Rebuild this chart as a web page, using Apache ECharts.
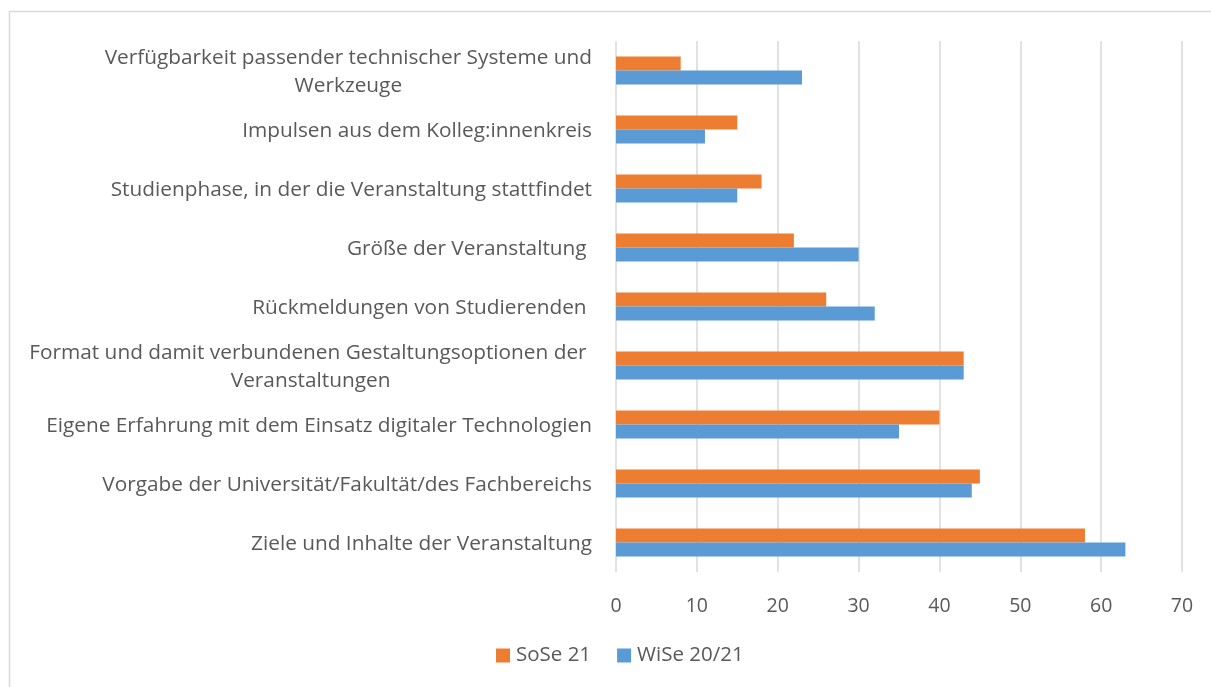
<!DOCTYPE html>
<html>
<head>
<meta charset="utf-8">
<script src="https://cdn.jsdelivr.net/npm/echarts@6/dist/echarts.min.js"></script>
<style>html,body{margin:0;padding:0;background:#fff;}#c{width:1211px;height:687px;}</style>
</head>
<body>
<div id="c"></div>
<script>
var categories = [
  "Ziele und Inhalte der Veranstaltung",
  "Vorgabe der Universität/Fakultät/des Fachbereichs",
  "Eigene Erfahrung mit dem Einsatz digitaler Technologien",
  "Format und damit verbundenen Gestaltungsoptionen der \nVeranstaltungen",
  "Rückmeldungen von Studierenden ",
  "Größe der Veranstaltung ",
  "Studienphase, in der die Veranstaltung stattfindet",
  "Impulsen aus dem Kolleg:innenkreis",
  "Verfügbarkeit passender technischer Systeme und\nWerkzeuge"
];
var sose21 = [58, 45, 40, 43, 26, 22, 18, 15, 8];
var wise2021 = [63, 44, 35, 43, 32, 30, 15, 11, 23];
var seriesNames = ["SoSe 21", "WiSe 20/21"];
var xTicks = [0, 10, 20, 30, 40, 50, 60, 70];

var FONT = "'Open Sans', 'Noto Sans', sans-serif";
var chart = echarts.init(document.getElementById('c'));
chart.setOption({
  animation: false,
  backgroundColor: '#fff',
  graphic: [{
    type: 'rect', shape: {x: 9.5, y: 11.5, width: 1400, height: 900},
    style: {fill: 'none', stroke: '#d9d9d9', lineWidth: 1.5}, silent: true
  }],
  grid: {left: 616, right: 29, top: 41, bottom: 115, containLabel: false},
  legend: {
    bottom: 16, left: 491, itemWidth: 14, itemHeight: 14, itemGap: 26,
    icon: 'rect',
    textStyle: {color: '#595959', fontSize: 20.5, fontFamily: FONT, padding: [0, 0, 0, 1]},
    data: seriesNames
  },
  xAxis: {
    type: 'value', min: xTicks[0], max: xTicks[xTicks.length - 1], interval: 10,
    axisLine: {show: false}, axisTick: {show: false},
    splitLine: {lineStyle: {color: '#d9d9d9', width: 1.5}},
    axisLabel: {color: '#595959', fontSize: 19.5, fontFamily: FONT, margin: 24}
  },
  yAxis: {
    type: 'category', data: categories,
    axisLine: {show: false}, axisTick: {show: false},
    axisLabel: {
      color: '#595959', fontSize: 20.8, fontFamily: FONT, margin: 24, lineHeight: 28,
      padding: [4, 0, 0, 0],
      formatter: function (v) {
        return v.split('\n').map(function (l) { return '{c|' + l + '}'; }).join('\n');
      },
      rich: {c: {align: 'center', color: '#595959', fontSize: 20.8, fontFamily: FONT, lineHeight: 28}}
    }
  },
  series: [
    {name: seriesNames[0], type: 'bar', data: sose21, barWidth: 14, barGap: '0%',
     itemStyle: {color: '#ed7d31'}},
    {name: seriesNames[1], type: 'bar', data: wise2021, barWidth: 14, barGap: '0%',
     itemStyle: {color: '#5b9bd5'}}
  ]
});
</script>
</body>
</html>
